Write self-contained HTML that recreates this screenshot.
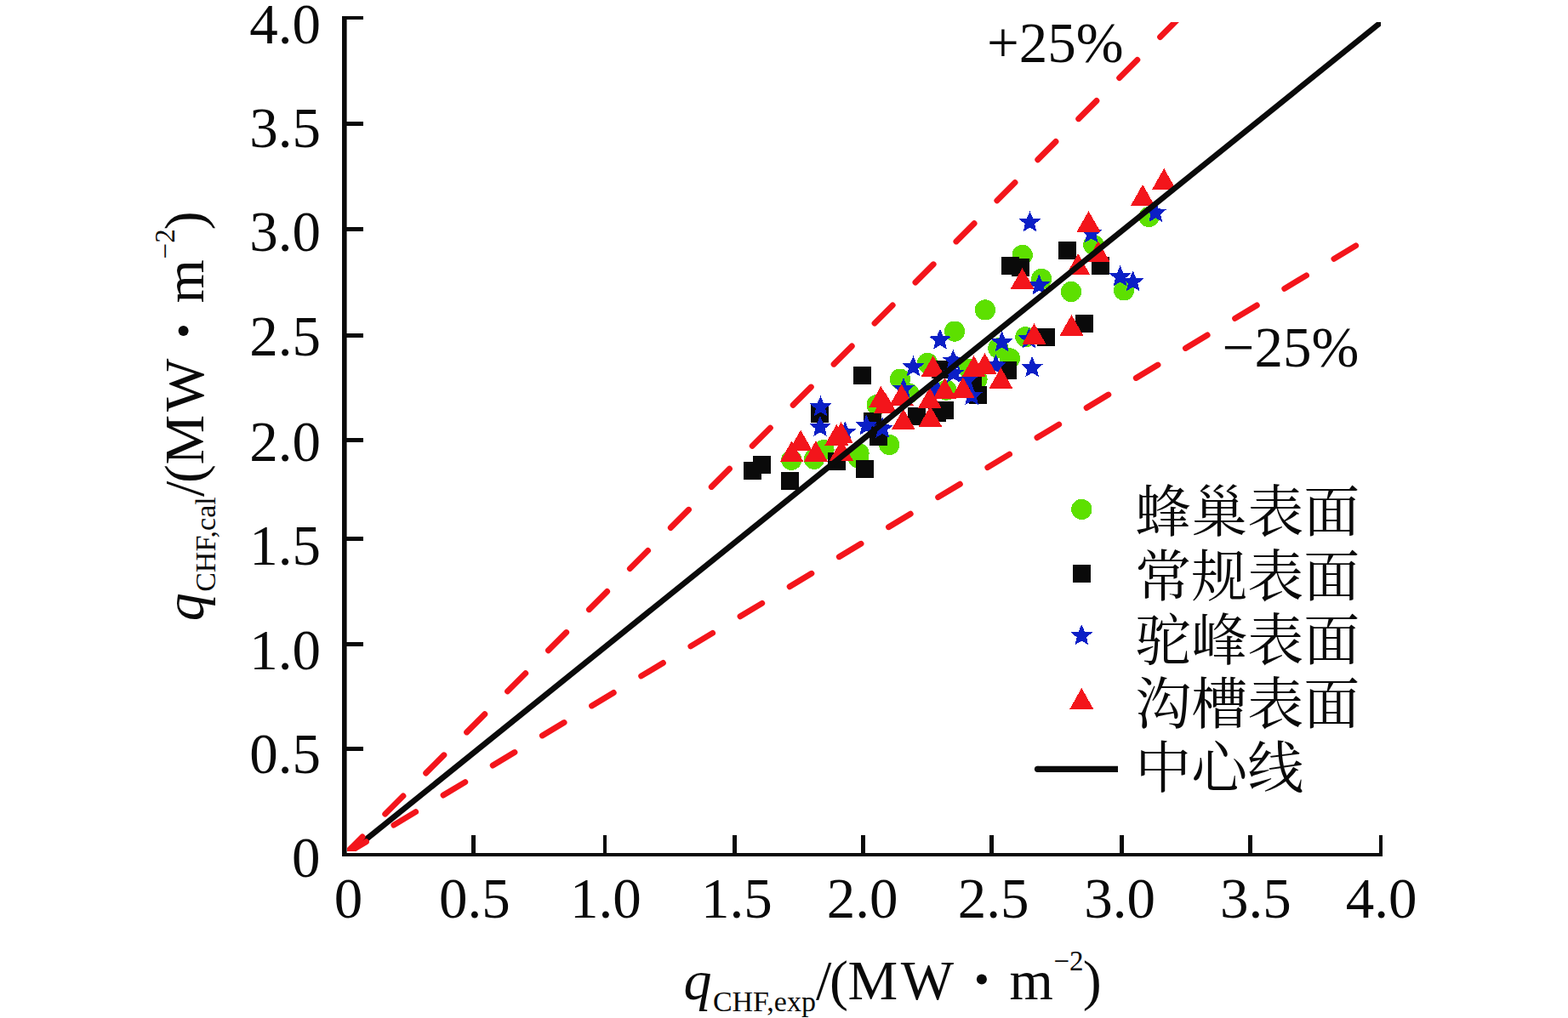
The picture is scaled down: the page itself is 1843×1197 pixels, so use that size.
<!DOCTYPE html>
<html><head><meta charset="utf-8"><title>chart</title>
<style>
html,body{margin:0;padding:0;background:#fff;}
body{width:1843px;height:1197px;overflow:hidden;}
svg{display:block;}
text{font-family:"Liberation Serif",serif;fill:#0a0a0a;}
.it{font-style:italic;}
.cjk{font-family:"Liberation Serif","Noto Serif CJK SC",serif;}
</style></head><body>
<svg width="1843" height="1197" viewBox="0 0 1843 1197">
<rect x="0" y="0" width="1843" height="1197" fill="#ffffff"/>
<defs>
<polygon id="st" points="0.00,-13.40 3.53,-4.85 12.74,-4.14 5.71,1.85 7.88,10.84 0.00,6.00 -7.88,10.84 -5.71,1.85 -12.74,-4.14 -3.53,-4.85"/>
<polygon id="tr" points="0,0 14.00,24.80 -14.00,24.80"/>
<rect id="sq" x="-10.5" y="-10.5" width="21" height="21"/>
<circle id="ci" cx="0" cy="0" r="12.1"/>
<clipPath id="clip"><rect x="408" y="26" width="1215" height="975"/></clipPath>
<clipPath id="clip2"><rect x="408" y="26" width="1209" height="975"/></clipPath>
</defs>
<g fill="#0a0a0a">
<rect x="402" y="19" width="5.6" height="988"/>
<rect x="402" y="1003" width="1223" height="4"/>
<rect x="402" y="19" width="25" height="4"/>
<rect x="402" y="143" width="25" height="5"/>
<rect x="402" y="267" width="25" height="5"/>
<rect x="402" y="392" width="25" height="5"/>
<rect x="402" y="515" width="25" height="5"/>
<rect x="402" y="631" width="25" height="5"/>
<rect x="402" y="755" width="25" height="5"/>
<rect x="402" y="878" width="25" height="5"/>
<rect x="554" y="982" width="5" height="22"/>
<rect x="709" y="982" width="4" height="22"/>
<rect x="861" y="982" width="5" height="22"/>
<rect x="1012" y="982" width="5" height="22"/>
<rect x="1163" y="982" width="5" height="22"/>
<rect x="1316" y="982" width="5" height="22"/>
<rect x="1467" y="982" width="5" height="22"/>
<rect x="1621" y="982" width="4" height="22"/>
</g>
<g font-size="67">
<text x="293.2" y="50.8">4.0</text>
<text x="293.2" y="173">3.5</text>
<text x="293.2" y="295">3.0</text>
<text x="293.2" y="417.8">2.5</text>
<text x="293.2" y="541.8">2.0</text>
<text x="293.2" y="663.9">1.5</text>
<text x="293.2" y="786.8">1.0</text>
<text x="293.2" y="909">0.5</text>
<text x="342.9" y="1031.2">0</text>
<text x="392.85" y="1078.6">0</text>
<text x="516.06" y="1078.6">0.5</text>
<text x="669.90" y="1078.6">1.0</text>
<text x="823.88" y="1078.6">1.5</text>
<text x="971.72" y="1078.6">2.0</text>
<text x="1125.71" y="1078.6">2.5</text>
<text x="1274.19" y="1078.6">3.0</text>
<text x="1434.07" y="1078.6">3.5</text>
<text x="1581.83" y="1078.6">4.0</text>
</g>
<text x="1160" y="73.4" font-size="67">+25%</text>
<text x="1436.7" y="430.6" font-size="67">−25%</text>
<g transform="translate(803.5,1174.5)">
<text class="it" x="0" y="0" font-size="66">q</text>
<text x="34.4" y="14.4" font-size="34">CHF,exp</text>
<text x="155.4" y="0" font-size="66">/</text>
<text x="171.5" y="0" font-size="66">(</text>
<text x="193" y="0" font-size="66">M</text>
<text x="255.3" y="0" font-size="66">W</text>
<circle cx="350.4" cy="-23.1" r="6" fill="#0a0a0a"/>
<text x="382.9" y="0" font-size="66">m</text>
<text x="435" y="-33.7" font-size="33">−2</text>
<text x="469.2" y="0" font-size="66">)</text>
</g>
<g transform="translate(238.7,730.2) rotate(-90)">
<text class="it" x="0" y="0" font-size="66">q</text>
<text x="34.4" y="14.4" font-size="34">CHF,cal</text>
<text x="146.2" y="0" font-size="66">/</text>
<text x="162.3" y="0" font-size="66">(</text>
<text x="183.8" y="0" font-size="66">M</text>
<text x="246.1" y="0" font-size="66">W</text>
<circle cx="341.2" cy="-23.1" r="6" fill="#0a0a0a"/>
<text x="373.7" y="0" font-size="66">m</text>
<text x="425.8" y="-33.7" font-size="33">−2</text>
<text x="460" y="0" font-size="66">)</text>
</g>
<g shape-rendering="crispEdges">
<g fill="#5de000">
<use href="#ci" x="930.3" y="540.8"/>
<use href="#ci" x="957" y="539.8"/>
<use href="#ci" x="968.5" y="529"/>
<use href="#ci" x="1009.5" y="533.3"/>
<use href="#ci" x="1008.8" y="538.6"/>
<use href="#ci" x="1045.2" y="523"/>
<use href="#ci" x="1030.6" y="476"/>
<use href="#ci" x="1057.9" y="445.7"/>
<use href="#ci" x="1090.1" y="426.9"/>
<use href="#ci" x="1068.4" y="462.5"/>
<use href="#ci" x="1139" y="434"/>
<use href="#ci" x="1112.4" y="458.6"/>
<use href="#ci" x="1148.5" y="446"/>
<use href="#ci" x="1157.9" y="364.4"/>
<use href="#ci" x="1259" y="343"/>
<use href="#ci" x="1205.4" y="396.2"/>
<use href="#ci" x="1173.3" y="409.4"/>
<use href="#ci" x="1187" y="421.4"/>
<use href="#ci" x="1122" y="389.6"/>
<use href="#ci" x="1201.7" y="299.9"/>
<use href="#ci" x="1224.1" y="328"/>
<use href="#ci" x="1285.3" y="287.9"/>
<use href="#ci" x="1321.1" y="341.3"/>
<use href="#ci" x="1350.4" y="255"/>
</g>
<g fill="#0a0a0a">
<use href="#sq" x="884.5" y="553.4"/>
<use href="#sq" x="895.6" y="546.4"/>
<use href="#sq" x="928.5" y="565.4"/>
<use href="#sq" x="1016.5" y="551.5"/>
<use href="#sq" x="983.1" y="542.5"/>
<use href="#sq" x="963.4" y="486.1"/>
<use href="#sq" x="1025.6" y="495.5"/>
<use href="#sq" x="1032.5" y="513.3"/>
<use href="#sq" x="1013.5" y="441.3"/>
<use href="#sq" x="1105.6" y="434.3"/>
<use href="#sq" x="1077.5" y="489.2"/>
<use href="#sq" x="1110.5" y="482.6"/>
<use href="#sq" x="1101" y="485.5"/>
<use href="#sq" x="1143.8" y="452.4"/>
<use href="#sq" x="1149.7" y="464.7"/>
<use href="#sq" x="1274.6" y="380.4"/>
<use href="#sq" x="1229.5" y="396.5"/>
<use href="#sq" x="1184.4" y="435.6"/>
<use href="#sq" x="1254.6" y="294.5"/>
<use href="#sq" x="1293.5" y="312.5"/>
<use href="#sq" x="1199.6" y="314.1"/>
<use href="#sq" x="1187.4" y="312.4"/>
</g>
<g fill="#0b1fc6">
<use href="#st" x="964.5" y="478.6"/>
<use href="#st" x="964" y="502.3"/>
<use href="#st" x="993.3" y="508.6"/>
<use href="#st" x="1018.3" y="500.7"/>
<use href="#st" x="1037.2" y="504"/>
<use href="#st" x="1073.5" y="431.6"/>
<use href="#st" x="1105" y="399.8"/>
<use href="#st" x="1120.4" y="424.2"/>
<use href="#st" x="1062" y="457.5"/>
<use href="#st" x="1120.7" y="439.1"/>
<use href="#st" x="1142.2" y="465.4"/>
<use href="#st" x="1136.1" y="447.5"/>
<use href="#st" x="1101.6" y="458.6"/>
<use href="#st" x="1170.5" y="430"/>
<use href="#st" x="1177.6" y="402.6"/>
<use href="#st" x="1213.1" y="432.4"/>
<use href="#st" x="1209.6" y="398.7"/>
<use href="#st" x="1221.3" y="335.6"/>
<use href="#st" x="1210.5" y="261.5"/>
<use href="#st" x="1282.8" y="274.5"/>
<use href="#st" x="1316.6" y="325.6"/>
<use href="#st" x="1331.7" y="331.5"/>
<use href="#st" x="1358.3" y="250.2"/>
</g>
<g fill="#f3151b">
<use href="#tr" x="941.1" y="505.6"/>
<use href="#tr" x="930.6" y="518.5"/>
<use href="#tr" x="958.9" y="518.1"/>
<use href="#tr" x="988.7" y="496.1"/>
<use href="#tr" x="983.4" y="498.7"/>
<use href="#tr" x="988.9" y="517"/>
<use href="#tr" x="1035.4" y="453.9"/>
<use href="#tr" x="1040.6" y="461.5"/>
<use href="#tr" x="1059.6" y="451.8"/>
<use href="#tr" x="1096.7" y="418.1"/>
<use href="#tr" x="1092.8" y="455.5"/>
<use href="#tr" x="1061.8" y="480.5"/>
<use href="#tr" x="1093.5" y="477.3"/>
<use href="#tr" x="1110.4" y="444.5"/>
<use href="#tr" x="1131.9" y="443.5"/>
<use href="#tr" x="1144.6" y="418.1"/>
<use href="#tr" x="1157.5" y="415.1"/>
<use href="#tr" x="1176.4" y="432.1"/>
<use href="#tr" x="1259.5" y="370.1"/>
<use href="#tr" x="1215.5" y="380"/>
<use href="#tr" x="1201.6" y="315.2"/>
<use href="#tr" x="1279.5" y="248"/>
<use href="#tr" x="1290.8" y="283.4"/>
<use href="#tr" x="1267.2" y="298.1"/>
<use href="#tr" x="1368.2" y="197.9"/>
<use href="#tr" x="1343.1" y="216.9"/>
</g>
</g>
<g clip-path="url(#clip)" fill="none">
<line x1="405" y1="1007.3" x2="1660" y2="-3.48" stroke="#0a0a0a" stroke-width="6.7"/>
</g><g clip-path="url(#clip2)" fill="none">
<line x1="405" y1="1005" x2="1700" y2="-293.88" stroke="#f3151b" stroke-width="6.9" stroke-linecap="round" stroke-dasharray="30 37.9" stroke-dashoffset="0.3"/>
<line x1="405" y1="1005" x2="1700" y2="224.76" stroke="#f3151b" stroke-width="6.9" stroke-linecap="round" stroke-dasharray="30 37.9" stroke-dashoffset="0.3"/>
</g>
<g shape-rendering="crispEdges">
<use href="#ci" x="1271.3" y="598.9" fill="#5de000"/>
<use href="#sq" x="1271.3" y="674.5" fill="#0a0a0a"/>
<use href="#st" x="1271.3" y="747.5" fill="#0b1fc6"/>
<use href="#tr" x="1271.3" y="809" fill="#f3151b"/>
</g>
<line x1="1219.5" y1="904.3" x2="1314" y2="904.3" stroke="#0a0a0a" stroke-width="7.2"/>
<circle cx="1219.5" cy="904.3" r="3.6" fill="#0a0a0a"/>
<g fill="#0a0a0a" font-size="66">
<text class="cjk" x="1334.2" y="625.3">蜂巢表面</text>
<text class="cjk" x="1334.2" y="700.8">常规表面</text>
<text class="cjk" x="1334.2" y="775.9">驼峰表面</text>
<text class="cjk" x="1334.2" y="851.3">沟槽表面</text>
<text class="cjk" x="1334.2" y="926.2">中心线</text>
</g>
</svg>
</body></html>
